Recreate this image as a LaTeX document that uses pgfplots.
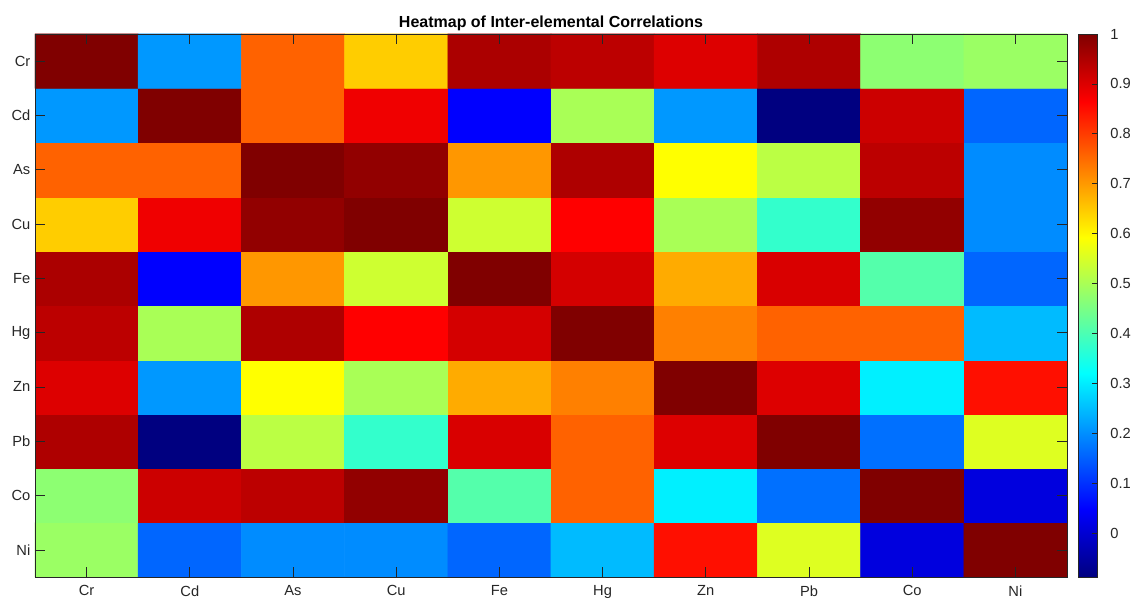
\documentclass[border=0pt]{standalone}
\usepackage{pgfplots}
\usepackage{pgfplotstable}
\pgfplotsset{compat=1.18}
\usepackage{fontspec}
\setmainfont{Liberation Sans}
\definecolor{axgray}{rgb}{0.15,0.15,0.15}

% rows listed from bottom (Ni, y=0) to top (Cr, y=9); columns Cr..Ni at x=0..9
\pgfplotstableread{
x y c
0 0 0.485
1 0 0.157
2 0 0.197
3 0 0.197
4 0 0.157
5 0 0.247
6 0 0.848
7 0 0.557
8 0 0.013
9 0 1.000
0 1 0.470
1 1 0.918
2 1 0.935
3 1 0.980
4 1 0.410
5 1 0.760
6 1 0.304
7 1 0.168
8 1 1.000
9 1 0.013
0 2 0.950
1 2 -0.088
2 2 0.520
3 2 0.374
4 2 0.905
5 2 0.760
6 2 0.900
7 2 1.000
8 2 0.168
9 2 0.557
0 3 0.900
1 3 0.210
2 3 0.592
3 3 0.500
4 3 0.682
5 3 0.728
6 3 1.000
7 3 0.900
8 3 0.304
9 3 0.848
0 4 0.935
1 4 0.500
2 4 0.950
3 4 0.864
4 4 0.910
5 4 1.000
6 4 0.728
7 4 0.760
8 4 0.760
9 4 0.247
0 5 0.954
1 5 0.048
2 5 0.703
3 5 0.540
4 5 1.000
5 5 0.910
6 5 0.682
7 5 0.905
8 5 0.410
9 5 0.157
0 6 0.645
1 6 0.880
2 6 0.980
3 6 1.000
4 6 0.540
5 6 0.864
6 6 0.500
7 6 0.374
8 6 0.980
9 6 0.197
0 7 0.760
1 7 0.760
2 7 1.000
3 7 0.980
4 7 0.703
5 7 0.950
6 7 0.592
7 7 0.520
8 7 0.935
9 7 0.197
0 8 0.210
1 8 1.000
2 8 0.760
3 8 0.880
4 8 0.048
5 8 0.500
6 8 0.210
7 8 -0.088
8 8 0.918
9 8 0.157
0 9 1.000
1 9 0.210
2 9 0.760
3 9 0.645
4 9 0.954
5 9 0.935
6 9 0.900
7 9 0.950
8 9 0.470
9 9 0.485
}\datatable

\pgfplotsset{
  colormap={mjet}{rgb(0cm)=(0,0,0.5); rgb(1cm)=(0,0,1); rgb(3cm)=(0,1,1); rgb(5cm)=(1,1,0); rgb(7cm)=(1,0,0); rgb(8cm)=(0.5,0,0)},
}

\begin{document}
\begin{tikzpicture}
\begin{axis}[
  name=main,
  scale only axis,
  width=774pt, height=407.25pt,
  xmin=-0.5, xmax=9.5, ymin=-0.5, ymax=9.5,
  xtick={0,...,9}, ytick={0,...,9},
  xticklabels={Cr,Cd,As,Cu,Fe,Hg,Zn,Pb,Co,Ni},
  yticklabels={Ni,Co,Pb,Zn,Hg,Fe,Cu,As,Cd,Cr},
  tick align=inside,
  major tick length=7.5pt,
  axis line style={axgray, line width=0.5pt},
  tick style={axgray, line width=0.5pt},
  ticklabel style={font=\fontsize{11}{13}\selectfont, text=axgray},
  xticklabel style={yshift=-3pt},
  axis on top,
  colormap name=mjet,
  point meta min=-0.088, point meta max=1,
  title={Heatmap of Inter-elemental Correlations},
  title style={font=\bfseries\fontsize{12}{14}\selectfont, at={(0.5,1)}, anchor=south, yshift=-7pt},
  colorbar,
  colorbar style={
    at={([xshift=13.5pt]parent axis.north east)}, anchor=north west,
    scale only axis, width=14.5pt, height=407.25pt,
    ytick={0,0.1,0.2,0.3,0.4,0.5,0.6,0.7,0.8,0.9,1},
    yticklabels={0,0.1,0.2,0.3,0.4,0.5,0.6,0.7,0.8,0.9,1},
    ytick pos=right, yticklabel pos=right,
    tick align=inside, major tick length=4pt,
    axis line style={axgray, line width=0.5pt},
    tick style={axgray, line width=0.5pt},
    yticklabel style={font=\fontsize{11}{13}\selectfont, text=axgray, xshift=6pt},
  },
]
\addplot[matrix plot*, mesh/cols=10, point meta=explicit] table[x=x, y=y, meta=c] {\datatable};
\end{axis}
\pgfresetboundingbox
\path ([shift={(-26.25pt,-15.75pt)}]main.south west) rectangle ([shift={(49.5pt,25.5pt)}]main.north east);
\end{tikzpicture}
\end{document}
